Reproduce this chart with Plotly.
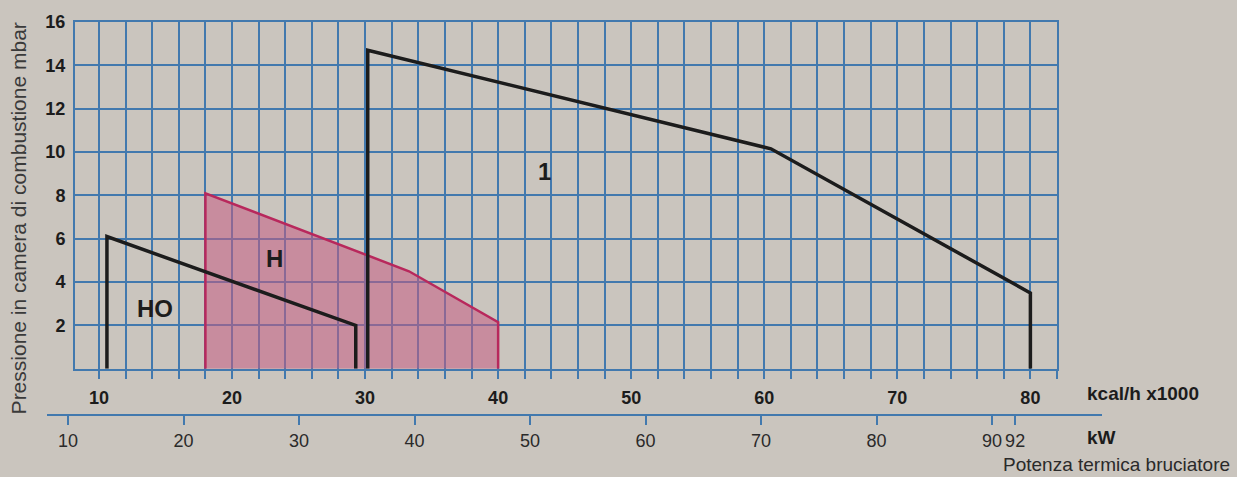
import plotly.graph_objects as go

# ---- data ----
# x in kcal/h x 1000, y in mbar
ho_x = [10.6, 10.6, 29.3, 29.3]
ho_y = [0, 6.1, 2.0, 0]

h_x = [18.0, 18.0, 33.3, 40.0, 40.0]
h_y = [0, 8.1, 4.5, 2.15, 0]

one_x = [30.2, 30.2, 60.5, 80.0, 80.0]
one_y = [0, 14.7, 10.15, 3.5, 0]

kcal_ticks = [10, 12, 14, 16, 18, 20, 22, 24, 26, 28, 30, 32, 34, 36, 38, 40, 42, 44, 46,
              48, 50, 52, 54, 56, 58, 60, 62, 64, 66, 68, 70, 72, 74, 76, 78, 80, 82]
kcal_labels = [str(v) if v % 10 == 0 and v <= 80 else "" for v in kcal_ticks]

kw_ticks = [10, 20, 30, 40, 50, 60, 70, 80, 90, 92]
kw_labels = ["10", "20", "30", "40", "50", "60", "70", "80", "90", "92"]

mbar_ticks = [2, 4, 6, 8, 10, 12, 14, 16]
mbar_labels = ["2", "4", "6", "8", "10", "12", "14", "16"]

# ---- style ----
BG = "#cac5be"
BLUE = "#4279ae"
INK = "#1c1c1c"
FONT = "Liberation Sans"

fig = go.Figure()

fig.add_trace(go.Scatter(
    x=h_x, y=h_y, mode="lines", fill="toself",
    fillcolor="rgba(198,92,132,0.55)",
    line=dict(color="#b8285c", width=2.5),
    showlegend=False, hoverinfo="skip"))

fig.add_trace(go.Scatter(
    x=ho_x, y=ho_y, mode="lines",
    line=dict(color=INK, width=3.5),
    showlegend=False, hoverinfo="skip"))

fig.add_trace(go.Scatter(
    x=one_x, y=one_y, mode="lines",
    line=dict(color=INK, width=3.5),
    showlegend=False, hoverinfo="skip"))

# dummy trace so the kW axis exists
fig.add_trace(go.Scatter(
    x=kw_ticks, y=[None] * len(kw_ticks), xaxis="x2", yaxis="y2",
    mode="markers", marker=dict(opacity=0),
    showlegend=False, hoverinfo="skip"))

# region labels
for txt, xv, yv in [("HO", 14.2, 2.8), ("H", 23.2, 5.1), ("1", 43.5, 9.1)]:
    fig.add_annotation(x=xv, y=yv, xref="x", yref="y", text=txt, showarrow=False,
                       font=dict(family=FONT, size=24, color=INK, weight="bold"))

# unit labels
fig.add_annotation(x=0.984, y=0.052, xref="paper", yref="paper", text="kcal/h x1000",
                   showarrow=False, xanchor="left", yanchor="middle",
                   font=dict(family=FONT, size=19, color=INK, weight="bold"))
fig.add_annotation(x=0.984, y=-0.060, xref="paper", yref="paper", text="kW",
                   showarrow=False, xanchor="left", yanchor="middle",
                   font=dict(family=FONT, size=19, color=INK, weight="bold"))
fig.add_annotation(x=1.123, y=-0.130, xref="paper", yref="paper",
                   text="Potenza termica bruciatore",
                   showarrow=False, xanchor="right", yanchor="middle",
                   font=dict(family=FONT, size=19, color="#2a2a2a"))
fig.add_annotation(x=-0.0275, y=0.499, xref="paper", yref="paper",
                   text="Pressione in camera di combustione mbar",
                   showarrow=False, textangle=-90, xanchor="center", yanchor="middle",
                   font=dict(family=FONT, size=21, color="#3a3a3a"))

fig.update_layout(
    width=1237, height=477,
    margin=dict(l=47, r=135, t=15, b=63),
    paper_bgcolor=BG, plot_bgcolor="rgba(0,0,0,0)",
    xaxis=dict(
        domain=[0.02654, 0.95735], range=[8.2, 82], anchor="y",
        tickmode="array", tickvals=kcal_ticks, ticktext=kcal_labels,
        showgrid=True, gridcolor=BLUE, gridwidth=1.5,
        showline=True, linecolor=BLUE, linewidth=2, mirror=True,
        ticks="outside", ticklen=8, tickcolor=BLUE, tickwidth=1.5,
        ticklabelstandoff=4,
        tickfont=dict(family=FONT, size=18, color=INK, weight="bold"),
        zeroline=False, fixedrange=True),
    yaxis=dict(
        domain=[0.11529, 1], range=[0, 16], anchor="x",
        tickmode="array", tickvals=mbar_ticks, ticktext=mbar_labels,
        showgrid=True, gridcolor=BLUE, gridwidth=1.5,
        showline=True, linecolor=BLUE, linewidth=2, mirror=True,
        ticks="", ticklabelstandoff=4,
        tickfont=dict(family=FONT, size=18, color=INK, weight="bold"),
        zeroline=False, fixedrange=True),
    xaxis2=dict(
        domain=[0, 1], range=[8.18, 99.52], anchor="y2",
        tickmode="array", tickvals=kw_ticks, ticktext=kw_labels,
        showgrid=False, zeroline=False,
        showline=True, linecolor=BLUE, linewidth=2,
        ticks="outside", ticklen=9, tickcolor=BLUE, tickwidth=1.5,
        tickfont=dict(family=FONT, size=18, color="#2a2a2a"),
        fixedrange=True),
    yaxis2=dict(domain=[0, 1], range=[0, 1], anchor="x2", visible=False,
                showgrid=False, zeroline=False, fixedrange=True),
)

fig.write_html("out.html", config={"displayModeBar": False},
               post_script="document.body.style.margin='0';document.body.style.background='%s';" % BG)
